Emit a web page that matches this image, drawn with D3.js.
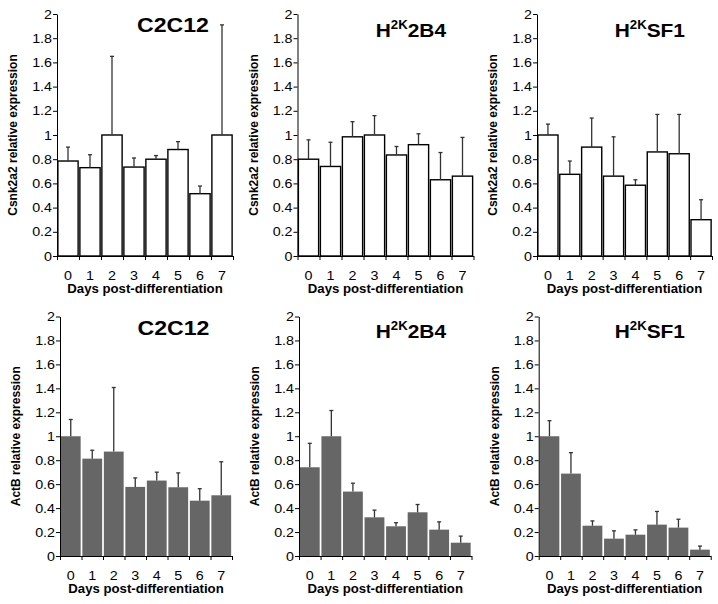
<!DOCTYPE html>
<html><head><meta charset="utf-8">
<script src="https://cdn.jsdelivr.net/npm/d3@7"></script>
<style>body{margin:0;background:#fff}svg{display:block}</style>
</head><body><svg id="c" width="718" height="604"></svg>
<script>
// ---- data ----
const days = ["0","1","2","3","4","5","6","7"];
const yTickValues = [0,0.2,0.4,0.6,0.8,1,1.2,1.4,1.6,1.8,2];

const csnkC2C12     = [0.785,0.73,1.0,0.735,0.80,0.88,0.515,1.0];
const csnkC2C12Err  = [0.115,0.107,0.65,0.075,0.03,0.065,0.063,0.91];
const csnkH2B4      = [0.80,0.74,0.985,1.0,0.835,0.92,0.63,0.66];
const csnkH2B4Err   = [0.16,0.20,0.125,0.16,0.07,0.09,0.225,0.32];
const csnkHSF1      = [1.0,0.675,0.90,0.66,0.585,0.86,0.845,0.30];
const csnkHSF1Err   = [0.09,0.11,0.24,0.325,0.045,0.31,0.325,0.165];

const actbC2C12     = [1.0,0.813,0.872,0.577,0.63,0.574,0.462,0.507];
const actbC2C12Err  = [0.14,0.07,0.535,0.075,0.07,0.12,0.10,0.28];
const actbH2B4      = [0.741,1.0,0.538,0.323,0.248,0.365,0.22,0.111];
const actbH2B4Err   = [0.20,0.215,0.07,0.06,0.03,0.065,0.065,0.055];
const actbHSF1      = [1.0,0.688,0.253,0.145,0.178,0.262,0.237,0.053];
const actbHSF1Err   = [0.13,0.175,0.04,0.065,0.04,0.11,0.07,0.03];

const cellLines = ["C2C12","H2B4","HSF1"];
const yLabels = ["Csnk2a2 relative expression","ActB relative expression"];
const xLabel = "Days post-differentiation";

// ---- layout ----
const FONT = "Arial, 'Liberation Sans', sans-serif";
const SX = 1.1; // horizontal text stretch of the reference
const rows = [
  {top:14, bottom:256, x0:[57,297.5,537], x1:[233,473.5,712], titleY:[32,36.7,36.7], c2Center:173,
   fill:"#fff", stroke:"#000", series:[[csnkC2C12,csnkC2C12Err],[csnkH2B4,csnkH2B4Err],[csnkHSF1,csnkHSF1Err]], ylab:yLabels[0]},
  {top:316.5, bottom:556, x0:[60,299,538.7], x1:[232,471.5,710.7], titleY:[335,338.3,338.3], c2Center:173.5,
   fill:"#666666", stroke:"none", series:[[actbC2C12,actbC2C12Err],[actbH2B4,actbH2B4Err],[actbHSF1,actbHSF1Err]], ylab:yLabels[1]}
];
const hTitleStart = [null, 375.7, 614.7];

const svg = d3.select("#c");

function stretchedText(g, x, y, txt, size, anchor, weight){
  return g.append("text")
    .attr("transform", `translate(${x},${y}) scale(${SX},1)`)
    .attr("text-anchor", anchor)
    .attr("font-family", FONT)
    .attr("font-size", size)
    .attr("font-weight", weight || "normal")
    .attr("fill", "#000")
    .text(txt);
}

rows.forEach((row, ri) => {
  row.series.forEach(([vals, errs], ci) => {
    const g = svg.append("g");
    const x = d3.scaleBand().domain(days).range([row.x0[ci], row.x1[ci]])
      .paddingInner(0.08).paddingOuter(0.04);
    const y = d3.scaleLinear().domain([0,2]).range([row.bottom, row.top]);

    // bars
    g.selectAll("rect.bar").data(vals).join("rect")
      .attr("x", (d,i) => x(days[i]))
      .attr("y", d => y(d))
      .attr("width", x.bandwidth())
      .attr("height", d => y(0) - y(d))
      .attr("fill", row.fill)
      .attr("stroke", row.stroke)
      .attr("stroke-width", 1.4);

    // error bars (upper only)
    const eb = g.append("g").attr("stroke", "#333").attr("stroke-width", 1.3);
    vals.forEach((v, i) => {
      const cx = x(days[i]) + x.bandwidth()/2;
      eb.append("line").attr("x1", cx).attr("x2", cx).attr("y1", y(v)).attr("y2", y(v + errs[i]));
      eb.append("line").attr("x1", cx-2).attr("x2", cx+2).attr("y1", y(v + errs[i])).attr("y2", y(v + errs[i]));
    });

    // y axis
    const ya = g.append("g").attr("transform", `translate(${row.x0[ci]},0)`)
      .call(d3.axisLeft(y).tickValues(yTickValues).tickSizeInner(4).tickSizeOuter(0).tickPadding(3)
        .tickFormat(d => String(+d.toFixed(1))));
    ya.select(".domain").attr("stroke", "#000");
    ya.selectAll(".tick line").attr("stroke", "#000");
    ya.selectAll(".tick text").remove();
    yTickValues.forEach(t => {
      stretchedText(g, row.x0[ci] - 5, y(t) + 4.6, String(+t.toFixed(1)), 13, "end");
    });

    // x axis line and boundary ticks
    const bx = d3.scaleLinear().domain([0, days.length]).range([row.x0[ci], row.x1[ci]]);
    const xa = g.append("g").attr("transform", `translate(0,${row.bottom})`)
      .call(d3.axisBottom(bx).tickValues(d3.range(0, days.length + 1)).tickSizeInner(4).tickSizeOuter(0).tickFormat(""));
    xa.select(".domain").attr("stroke", "#000");
    xa.selectAll(".tick line").attr("stroke", "#000");
    days.forEach(d => {
      stretchedText(g, x(d) + x.bandwidth()/2, row.bottom + 24, d, 13, "middle");
    });

    // x label
    stretchedText(g, (row.x0[ci] + row.x1[ci]) / 2, row.bottom + 37, xLabel, 12, "middle", "bold");

    // y label
    g.append("text")
      .attr("transform", `translate(${row.x0[ci] - 40},${(row.top + row.bottom)/2}) rotate(-90)`)
      .attr("text-anchor", "middle")
      .attr("font-family", FONT).attr("font-size", 12).attr("font-weight", "bold")
      .text(row.ylab);

    // title
    if (ci === 0) {
      stretchedText(g, row.c2Center, row.titleY[ci], cellLines[0], 21, "middle", "bold");
    } else {
      const t = g.append("text")
        .attr("transform", `translate(${hTitleStart[ci]},${row.titleY[ci]}) scale(${SX},1)`)
        .attr("font-family", FONT).attr("font-weight", "bold").attr("font-size", 19);
      t.append("tspan").text("H");
      t.append("tspan").attr("font-size", 12).attr("dy", -8).text("2K");
      t.append("tspan").attr("font-size", 19).attr("dy", 8).text(cellLines[ci].slice(1));
    }
  });
});
</script>
</body></html>
